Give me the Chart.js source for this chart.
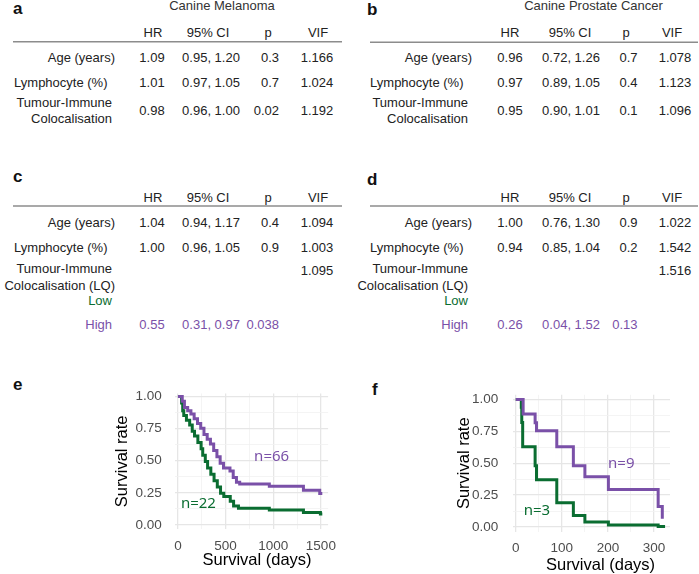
<!DOCTYPE html>
<html><head><meta charset="utf-8">
<script src="https://cdn.jsdelivr.net/npm/chart.js@4.4.1/dist/chart.umd.min.js"></script>
<style>
html,body{margin:0;padding:0;background:#fff;}
body{width:699px;height:574px;position:relative;overflow:hidden;font-family:"Liberation Sans",Arial,sans-serif;}
#tables{position:absolute;left:0;top:0;}
.cw{position:absolute;}
</style></head><body>
<svg id="tables" width="699" height="574" xmlns="http://www.w3.org/2000/svg"></svg>
<div class="cw" style="left:95px;top:372px;width:250px;height:204px"><canvas id="chartE"></canvas></div>
<div class="cw" style="left:445px;top:372px;width:238px;height:204px"><canvas id="chartF"></canvas></div>
<script>
// ---------------- DATA ----------------
// Panel e : Canine Melanoma, adjusted survival by colocalisation group
const eHighDays = [0, 45, 68, 102, 136, 170, 205, 239, 273, 307, 341, 375, 409, 443, 478, 546, 580, 614, 648, 959, 1317, 1488, 1515];
const eHighSurv = [1.00, 0.963, 0.914, 0.889, 0.864, 0.827, 0.790, 0.753, 0.704, 0.667, 0.630, 0.580, 0.531, 0.481, 0.444, 0.420, 0.370, 0.333, 0.318, 0.302, 0.270, 0.245, 0.245];
const eLowDays = [0, 38, 50, 61, 89, 123, 150, 174, 209, 243, 260, 287, 311, 345, 379, 413, 447, 481, 549, 584, 635, 959, 1317, 1495, 1515];
const eLowSurv = [1.00, 0.95, 0.89, 0.852, 0.815, 0.778, 0.729, 0.692, 0.642, 0.593, 0.543, 0.494, 0.444, 0.395, 0.345, 0.296, 0.247, 0.222, 0.185, 0.148, 0.129, 0.117, 0.097, 0.085, 0.085];
// Panel f : Canine Prostate Cancer
const fHighDays = [0, 16, 42, 45, 89, 125, 150, 201, 309, 318];
const fHighSurv = [1.00, 0.886, 0.817, 0.755, 0.630, 0.480, 0.395, 0.295, 0.160, 0.065];
const fLowDays = [0, 12, 13, 15, 42, 45, 89, 125, 150, 201, 309, 324];
const fLowSurv = [1.00, 0.94, 0.82, 0.63, 0.48, 0.37, 0.19, 0.09, 0.04, 0.015, 0.004, 0.004];

// tick labels / grid values
const yMajorTicks = [0, 0.25, 0.5, 0.75, 1];
const yMinorTicks = [0.125, 0.375, 0.625, 0.875];
const eXMajorTicks = [0, 500, 1000, 1500];
const eXMinorTicks = [250, 750, 1250];
const fXMajorTicks = [0, 100, 200, 300];
const fXMinorTicks = [50, 150, 250];

// group size annotations (text, day, survival)
const eNLabels = [['n=66', 983, 0.535, 'High'], ['n=22', 215, 0.163, 'Low']];
const fNLabels = [['n=9', 229, 0.50, 'High'], ['n=3', 46, 0.124, 'Low']];

// tables
const tableHeader = ['HR', '95% CI', 'p', 'VIF'];
const tableA = [
  ['Age (years)', '1.09', '0.95, 1.20', '0.3', '1.166'],
  ['Lymphocyte (%)', '1.01', '0.97, 1.05', '0.7', '1.024'],
  [['Tumour-Immune', 'Colocalisation'], '0.98', '0.96, 1.00', '0.02', '1.192']
];
const tableB = [
  ['Age (years)', '0.96', '0.72, 1.26', '0.7', '1.078'],
  ['Lymphocyte (%)', '0.97', '0.89, 1.05', '0.4', '1.123'],
  [['Tumour-Immune', 'Colocalisation'], '0.95', '0.90, 1.01', '0.1', '1.096']
];
const tableC = [
  ['Age (years)', '1.04', '0.94, 1.17', '0.4', '1.094'],
  ['Lymphocyte (%)', '1.00', '0.96, 1.05', '0.9', '1.003'],
  [['Tumour-Immune', 'Colocalisation (LQ)'], '', '', '', '1.095'],
  ['Low', '', '', '', ''],
  ['High', '0.55', '0.31, 0.97', '0.038', '']
];
const tableD = [
  ['Age (years)', '1.00', '0.76, 1.30', '0.9', '1.022'],
  ['Lymphocyte (%)', '0.94', '0.85, 1.04', '0.2', '1.542'],
  [['Tumour-Immune', 'Colocalisation (LQ)'], '', '', '', '1.516'],
  ['Low', '', '', '', ''],
  ['High', '0.26', '0.04, 1.52', '0.13', '']
];

// ---------------- STYLE ----------------
const COL = { High: '#7a50a8', Low: '#0a6d31' };
const FONT = '"Liberation Sans", Arial, Helvetica, sans-serif';

// ---------------- TABLES (SVG text) ----------------
const NS = 'http://www.w3.org/2000/svg';
const svg = document.getElementById('tables');
function txt(s, x, y, o) {
  o = o || {};
  if (!s) return;
  const t = document.createElementNS(NS, 'text');
  t.setAttribute('x', x); t.setAttribute('y', y);
  t.setAttribute('text-anchor', o.anchor || 'middle');
  t.setAttribute('font-size', o.size || 13);
  t.setAttribute('font-family', FONT);
  if (o.weight) t.setAttribute('font-weight', o.weight);
  t.setAttribute('fill', o.color || '#222');
  t.textContent = s;
  svg.appendChild(t);
}
function rule(x1, x2, y) {
  const l = document.createElementNS(NS, 'line');
  l.setAttribute('x1', x1); l.setAttribute('x2', x2);
  l.setAttribute('y1', y); l.setAttribute('y2', y);
  l.setAttribute('stroke', '#8c8c8c'); l.setAttribute('stroke-width', 1.4);
  svg.appendChild(l);
}
function drawTable(rows, L) {
  txt(L.letter, L.letterX, L.letterY, { anchor: 'start', size: 17, weight: 'bold', color: '#111' });
  if (L.title) txt(L.title, L.titleX, 10, { color: '#333' });
  tableHeader.forEach((h, i) => txt(h, L.head[i], L.headY));
  rule(L.ruleX1, L.ruleX2, L.ruleY);
  rows.forEach((r, ri) => {
    const ry = L.rowY[ri];
    const color = (r[0] === 'High' || r[0] === 'Low') ? COL[r[0]] : '#222';
    if (Array.isArray(r[0])) {
      txt(r[0][0], L.labelEnd[ri][0], L.multiY[0], { anchor: 'end' });
      txt(r[0][1], L.labelEnd[ri][1], L.multiY[1], { anchor: 'end' });
    } else {
      txt(r[0], L.labelEnd[ri], ry, { anchor: 'end', color });
    }
    txt(r[1], L.vals[0], ry, { color });
    txt(r[2], L.vals[1], ry, { color });
    txt(r[3], L.pEnd, ry, { anchor: 'end', color });
    txt(r[4], L.vals[3], (Array.isArray(r[0]) && L.multiVY) ? L.multiVY : ry, { color });
  });
}
const leftCols = { head: [153, 208, 268, 318], vals: [152, 211, 269, 317], pEnd: 279 };
const rightCols = { head: [510, 570, 626, 672], vals: [510, 571, 627, 675], pEnd: 637.5 };
drawTable(tableA, Object.assign({}, leftCols, {
  letter: 'a', letterX: 13, letterY: 13.5, title: 'Canine Melanoma', titleX: 222,
  headY: 37.3, ruleX1: 13, ruleX2: 342, ruleY: 41.7,
  rowY: [61.7, 86.7, 114.7], multiY: [106.5, 122.5],
  labelEnd: [115, 107.5, [112, 112]]
}));
drawTable(tableB, Object.assign({}, rightCols, {
  letter: 'b', letterX: 367, letterY: 15, title: 'Canine Prostate Cancer', titleX: 593.5,
  headY: 37.3, ruleX1: 370, ruleX2: 698, ruleY: 42.3,
  rowY: [61.7, 86.7, 114.7], multiY: [106.5, 122.5],
  labelEnd: [472, 463.5, [468, 468]]
}));
drawTable(tableC, Object.assign({}, leftCols, {
  letter: 'c', letterX: 13, letterY: 182,
  headY: 201.7, ruleX1: 13, ruleX2: 342, ruleY: 206,
  rowY: [226.7, 251.7, 275, 304.5, 329.3], multiY: [272.7, 290], multiVY: 275,
  labelEnd: [115, 107.5, [112, 115], 112, 112]
}));
drawTable(tableD, Object.assign({}, rightCols, {
  letter: 'd', letterX: 367, letterY: 185,
  headY: 201.7, ruleX1: 370, ruleX2: 698, ruleY: 206,
  rowY: [226.7, 251.7, 275, 304.5, 329.3], multiY: [272.7, 290], multiVY: 275,
  labelEnd: [472, 463.5, [468, 468], 468, 468]
}));
txt('e', 13, 390, { anchor: 'start', size: 17, weight: 'bold', color: '#111' });
txt('f', 372, 395, { anchor: 'start', size: 17, weight: 'bold', color: '#111' });

// ---------------- CHARTS ----------------
const kmText = {
  id: 'kmText',
  afterDatasetsDraw(chart, args, opts) {
    const { ctx, scales: { x, y }, chartArea } = chart;
    ctx.save();
    ctx.textAlign = 'center'; ctx.textBaseline = 'middle';
    ctx.font = '15px "Noto Sans", "Open Sans", sans-serif';
    opts.labels.forEach(l => {
      ctx.fillStyle = COL[l[3]];
      ctx.fillText(l[0], x.getPixelForValue(l[1]), y.getPixelForValue(l[2]));
    });
    ctx.font = '16.5px ' + FONT;
    ctx.fillStyle = '#000';
    ctx.fillText(opts.xTitle, (chartArea.left + chartArea.right) / 2 + opts.titleDx, opts.titleY);
    ctx.restore();
  }
};

function pts(days, surv) { return days.map((d, i) => ({ x: d, y: surv[i] })); }

function makeKM(id, high, low, cfg) {
  const isMajorX = v => cfg.xMajor.includes(v);
  const isMajorY = v => yMajorTicks.includes(v);
  new Chart(document.getElementById(id), {
    type: 'line',
    data: {
      datasets: [
        { label: 'High', data: pts(high[0], high[1]), borderColor: COL.High, borderWidth: 3, stepped: 'before', pointRadius: 0, fill: false, borderCapStyle: 'butt' },
        { label: 'Low', data: pts(low[0], low[1]), borderColor: COL.Low, borderWidth: 3, stepped: 'before', pointRadius: 0, fill: false, borderCapStyle: 'butt' }
      ]
    },
    plugins: [kmText],
    options: {
      responsive: true, maintainAspectRatio: false, animation: false,
      layout: { padding: { left: 0, top: cfg.padTop, right: 13, bottom: 0 } },
      plugins: {
        legend: { display: false }, tooltip: { enabled: false },
        kmText: { labels: cfg.labels, xTitle: 'Survival (days)', titleDx: cfg.titleDx, titleY: cfg.titleY }
      },
      scales: {
        x: {
          type: 'linear', min: cfg.xMin, max: cfg.xMax,
          afterBuildTicks: s => { s.ticks = cfg.xMajor.concat(cfg.xMinor).sort((a, b) => a - b).map(v => ({ value: v })); },
          afterFit: s => { s.height = cfg.xHeight; },
          border: { display: false },
          grid: {
            drawTicks: false,
            color: c => isMajorX(c.tick.value) ? '#e6e6e6' : '#f1f1f1',
            lineWidth: c => isMajorX(c.tick.value) ? 1.3 : 0.8
          },
          ticks: {
            autoSkip: false, maxRotation: 0, padding: cfg.xTickPad, color: '#4d4d4d',
            font: { family: FONT, size: 13.5 },
            callback: v => isMajorX(v) ? String(v) : ''
          }
        },
        y: {
          type: 'linear', min: cfg.yMin, max: cfg.yMax,
          afterBuildTicks: s => { s.ticks = yMajorTicks.concat(yMinorTicks).sort((a, b) => a - b).map(v => ({ value: v })); },
          afterFit: s => { s.width = cfg.yWidth; },
          border: { display: false },
          grid: {
            drawTicks: false,
            color: c => isMajorY(c.tick.value) ? '#e6e6e6' : '#f1f1f1',
            lineWidth: c => isMajorY(c.tick.value) ? 1.3 : 0.8
          },
          ticks: {
            autoSkip: false, padding: cfg.yTickPad, color: '#4d4d4d',
            font: { family: FONT, size: 13.5 },
            callback: v => isMajorY(v) ? v.toFixed(2) : ''
          },
          title: {
            display: true, text: 'Survival rate', color: '#000',
            font: { family: FONT, size: 16.5 }, padding: { top: cfg.yTitlePad, bottom: 0 }
          }
        }
      }
    }
  });
}

makeKM('chartE', [eHighDays, eHighSurv], [eLowDays, eLowSurv], {
  xMin: -31, xMax: 1576, yMin: -0.034, yMax: 1.0245,
  xMajor: eXMajorTicks, xMinor: eXMinorTicks,
  padTop: 14.7, xHeight: 46.7, yWidth: 80, yTitlePad: 18, xTickPad: 8.5, yTickPad: 13.3,
  labels: eNLabels, titleDx: 5.5, titleY: 188.5
});
makeKM('chartF', [fHighDays, fHighSurv], [fLowDays, fLowSurv], {
  xMin: -6, xMax: 334.7, yMin: -0.037, yMax: 1.037,
  xMajor: fXMajorTicks, xMinor: fXMinorTicks,
  padTop: 15, xHeight: 44.3, yWidth: 68, yTitlePad: 10, xTickPad: 8.2, yTickPad: 14.7,
  labels: fNLabels, titleDx: 9, titleY: 193.5
});
</script>
</body></html>
